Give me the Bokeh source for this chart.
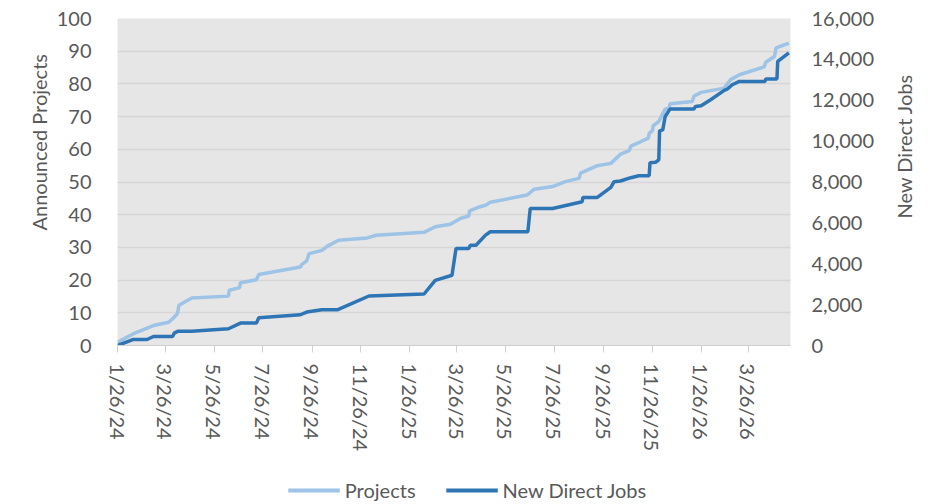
import math
import pandas as pd
from bokeh.plotting import figure
from bokeh.layouts import column, row
from bokeh.models import (Range1d, LinearAxis, FixedTicker, NumeralTickFormatter,
                          Legend, LegendItem, Title, Label)
from bokeh.embed import file_html
from bokeh.resources import INLINE

# ---------------- data ----------------
proj_dates = ["2024-01-26", "2024-02-15", "2024-03-11", "2024-03-30", "2024-04-04", "2024-04-10",
              "2024-04-12", "2024-04-28", "2024-06-13", "2024-06-14", "2024-06-27", "2024-06-28",
              "2024-07-18", "2024-07-21", "2024-09-11", "2024-09-13", "2024-09-19", "2024-09-22",
              "2024-10-08", "2024-10-15", "2024-10-29", "2024-12-04", "2024-12-15", "2025-02-13",
              "2025-02-27", "2025-03-18", "2025-03-31", "2025-04-10", "2025-04-11", "2025-04-21",
              "2025-05-01", "2025-05-07", "2025-06-22", "2025-07-01", "2025-07-24", "2025-08-09",
              "2025-08-26", "2025-08-28", "2025-09-18", "2025-10-05", "2025-10-17", "2025-10-28",
              "2025-10-30", "2025-11-11", "2025-11-21", "2025-11-22", "2025-11-26", "2025-11-27",
              "2025-12-04", "2025-12-09", "2025-12-12", "2025-12-17", "2025-12-18", "2026-01-15",
              "2026-01-17", "2026-01-26", "2026-02-24", "2026-03-04", "2026-03-15", "2026-04-15",
              "2026-04-17", "2026-04-28", "2026-04-30", "2026-05-16"]
proj_values = [1.0, 3.6, 6.1, 7.1, 8.2, 9.7,
               12.3, 14.5, 15.1, 16.9, 17.7, 19.2,
               20.1, 21.7, 24.0, 24.8, 25.9, 28.1,
               29.1, 30.4, 32.2, 32.9, 33.7, 34.6,
               36.3, 37.1, 38.9, 39.6, 41.2, 42.2,
               42.9, 43.8, 46.0, 47.8, 48.6, 50.1,
               51.1, 52.7, 55.0, 55.7, 58.5, 59.6,
               61.0, 62.3, 63.4, 64.9, 65.7, 67.2,
               68.5, 70.9, 72.3, 72.6, 73.9, 74.6,
               76.2, 77.4, 78.7, 81.3, 82.8, 85.2,
               86.6, 88.4, 91.0, 92.5]

jobs_dates = ["2024-01-26", "2024-02-15", "2024-03-03", "2024-03-11", "2024-04-04", "2024-04-06",
              "2024-04-11", "2024-04-28", "2024-06-13", "2024-06-28", "2024-07-18", "2024-07-21",
              "2024-09-11", "2024-09-19", "2024-10-08", "2024-10-28", "2024-12-06", "2025-02-13",
              "2025-02-27", "2025-03-20", "2025-03-25", "2025-04-10", "2025-04-12", "2025-04-19",
              "2025-05-01", "2025-05-07", "2025-06-23", "2025-06-26", "2025-07-24", "2025-08-30",
              "2025-08-31", "2025-09-18", "2025-10-05", "2025-10-09", "2025-10-17", "2025-10-30",
              "2025-11-09", "2025-11-22", "2025-11-23", "2025-11-30", "2025-12-04", "2025-12-05",
              "2025-12-09", "2025-12-12", "2025-12-18", "2026-01-17", "2026-01-19", "2026-01-26",
              "2026-02-07", "2026-02-24", "2026-02-28", "2026-03-06", "2026-03-15", "2026-04-16",
              "2026-04-17", "2026-05-01", "2026-05-02", "2026-05-16"]
jobs_values = [0, 295, 295, 442, 442, 605,
               703, 703, 818, 1096, 1096, 1358,
               1505, 1636, 1751, 1751, 2422, 2520,
               3190, 3436, 4745, 4745, 4908, 4908,
               5399, 5563, 5563, 6707, 6707, 7035,
               7247, 7247, 7740, 8015, 8049, 8211,
               8309, 8309, 8947, 8967, 9080, 10503,
               10553, 11207, 11568, 11568, 11698, 11730,
               12025, 12481, 12550, 12760, 12923, 12923,
               13040, 13040, 13904, 14316]

tick_labels = ["1/26/24", "3/26/24", "5/26/24", "7/26/24", "9/26/24", "11/26/24",
               "1/26/25", "3/26/25", "5/26/25", "7/26/25", "9/26/25", "11/26/25",
               "1/26/26", "3/26/26"]
x_start, x_end = "2024-01-26", "2026-05-18"
left_ticks = [0, 10, 20, 30, 40, 50, 60, 70, 80, 90, 100]
right_ticks = [0, 2000, 4000, 6000, 8000, 10000, 12000, 14000, 16000]
left_title = "Announced Projects"
right_title = "New Direct Jobs"
series_names = ["Projects", "New Direct Jobs"]

# ---------------- style ----------------
FONT = "Lato"
FS = "20px"
TXT = "#595959"
LIGHT = "#9DC3E6"
DARK = "#2E75B6"
MAIN_H = 476

px = pd.to_datetime(proj_dates)
jx = pd.to_datetime(jobs_dates)
ticks_dt = pd.to_datetime(tick_labels, format="%m/%d/%y")
tick_ms = [int(t.value // 10**6) for t in ticks_dt]

p = figure(x_axis_type="datetime", frame_width=673, frame_height=327,
           x_range=Range1d(pd.Timestamp(x_start), pd.Timestamp(x_end)),
           y_range=Range1d(0, 100),
           output_backend="svg", toolbar_location=None,
           min_border_left=117, min_border_right=85, min_border_top=18,
           min_border_bottom=MAIN_H - 18 - 327)
p.background_fill_color = "#E6E6E6"
p.border_fill_color = "white"
p.outline_line_color = None

p.extra_y_ranges = {"jobs": Range1d(0, 16000)}

r1 = p.line(px, proj_values, line_color=LIGHT, line_width=3.5)
r2 = p.line(jx, jobs_values, line_color=DARK, line_width=3.5, y_range_name="jobs")

# x axis
xa = p.xaxis[0]
xa.ticker = FixedTicker(ticks=tick_ms)
xa.major_label_overrides = {ms: lab for ms, lab in zip(tick_ms, tick_labels)}
xa.major_label_orientation = "vertical"
xa.major_tick_out = 7
xa.major_tick_in = 0
xa.minor_tick_out = 0
xa.minor_tick_in = 0
xa.major_tick_line_color = "#D0D0D0"
xa.axis_line_color = "#D0D0D0"
xa.major_label_standoff = 11
xa.major_label_text_font = FONT
xa.major_label_text_font_size = FS
xa.major_label_text_color = TXT

# left axis
ya = p.yaxis[0]
ya.ticker = FixedTicker(ticks=left_ticks)
ya.axis_line_color = None
ya.major_tick_line_color = None
ya.minor_tick_line_color = None
ya.major_label_standoff = 20
ya.major_label_text_font = FONT
ya.major_label_text_font_size = FS
ya.major_label_text_color = TXT

lt = Title(text=left_title, align="left", offset=115, vertical_align="middle",
           text_font=FONT, text_font_size=FS, text_font_style="normal",
           text_color=TXT, standoff=4)
p.add_layout(lt, "left")

# right axis
ra = LinearAxis(y_range_name="jobs", ticker=FixedTicker(ticks=right_ticks),
                formatter=NumeralTickFormatter(format="0,0"))
ra.axis_line_color = None
ra.major_tick_line_color = None
ra.minor_tick_line_color = None
ra.major_label_standoff = 15
ra.major_label_text_font = FONT
ra.major_label_text_font_size = FS
ra.major_label_text_color = TXT
p.add_layout(ra, "right")

# grid
p.xgrid.grid_line_color = None
p.ygrid.grid_line_color = "#D6D6D6"
p.ygrid.grid_line_width = 1.5
p.ygrid.ticker = FixedTicker(ticks=left_ticks[1:-1])

# right-hand axis title (reads bottom to top, as in the reference);
# this strip's frame is aligned with the main frame (y from 18 to 345)
RW = 45
rfig = figure(width=RW, height=MAIN_H, output_backend="svg", toolbar_location=None,
              x_range=Range1d(0, 1), y_range=Range1d(0, 1),
              x_axis_location=None, y_axis_location=None, min_border=0)
rfig.grid.visible = False
rfig.outline_line_color = None
rfig.add_layout(Label(x=26, y=127, x_units="screen", y_units="screen",
                      text=right_title, angle=math.pi / 2, text_align="left",
                      text_baseline="middle", text_font=FONT, text_font_size=FS,
                      text_color=TXT))

# legend strip under the chart
LEG_H = 28
leg = figure(width=875 + RW, height=LEG_H, output_backend="svg", toolbar_location=None,
             x_range=Range1d(0, 1), y_range=Range1d(0, 1),
             x_axis_location=None, y_axis_location=None,
             min_border=0, min_border_left=14)
leg.grid.visible = False
leg.outline_line_color = None
# legend-only renderers: same series, but far outside this strip's ranges
l1 = leg.line(px, proj_values, line_color=LIGHT, line_width=4)
l2 = leg.line(jx, jobs_values, line_color=DARK, line_width=4)
legend = Legend(items=[LegendItem(label=series_names[0], renderers=[l1]),
                       LegendItem(label=series_names[1], renderers=[l2])],
                orientation="horizontal", location="center")
legend.border_line_color = None
legend.background_fill_alpha = 0
legend.label_text_font = FONT
legend.label_text_font_size = FS
legend.label_text_color = TXT
legend.glyph_width = 52
legend.glyph_height = 22
legend.label_standoff = 5
legend.spacing = 30
legend.padding = 0
legend.margin = 0
leg.add_layout(legend, "center")

layout = column(row(p, rfig, spacing=0), leg, spacing=0)
open("out.html", "w").write(file_html(layout, INLINE))
